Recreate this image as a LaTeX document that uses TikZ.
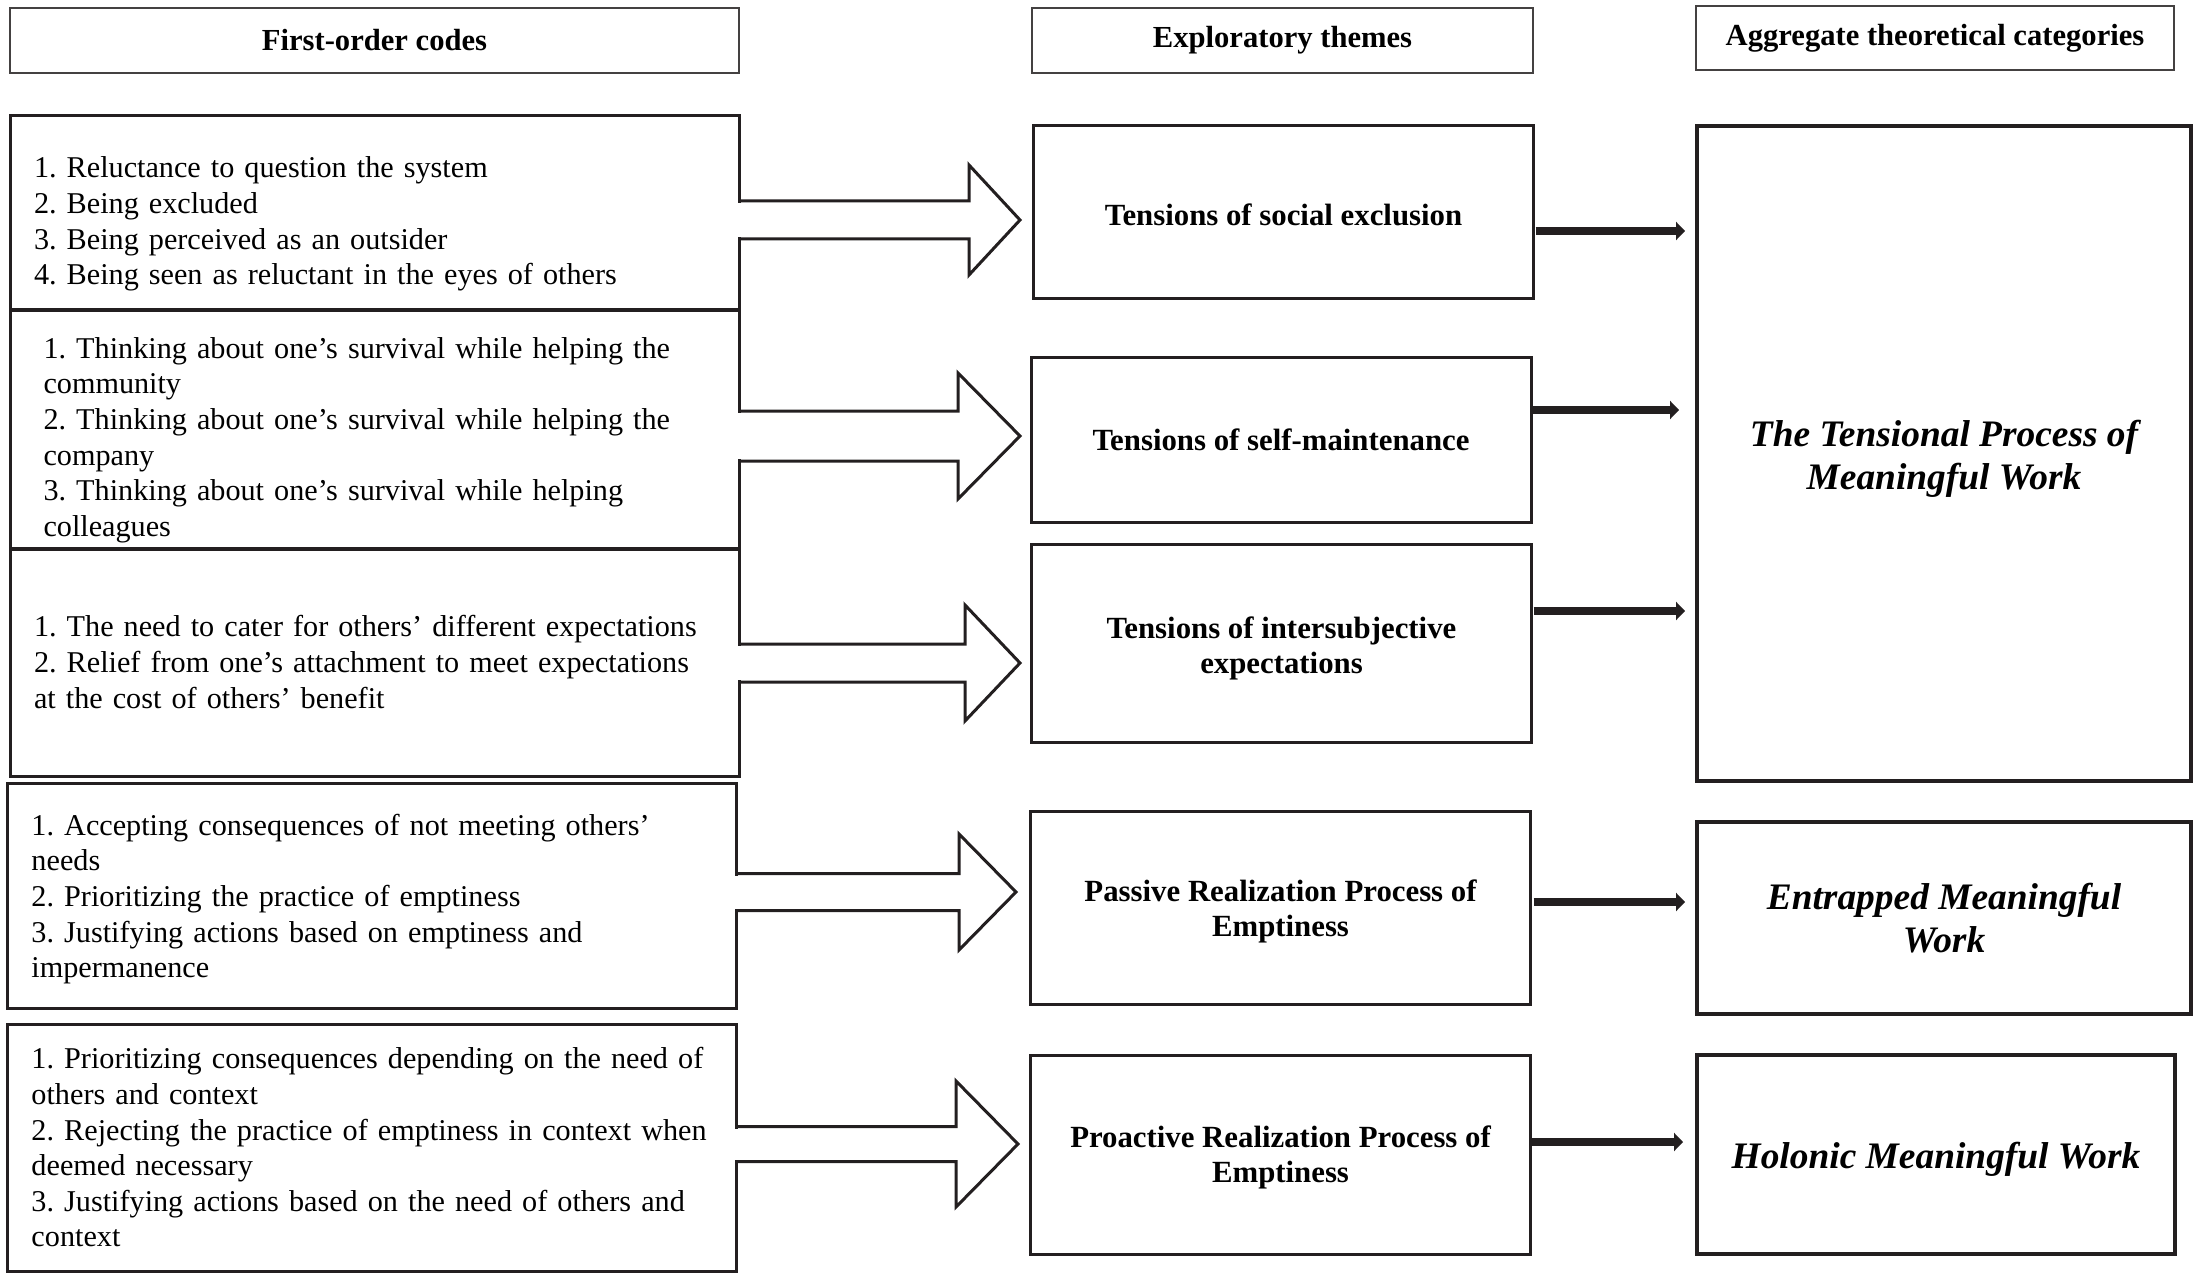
\documentclass[tikz,border=0pt]{standalone}
\usepackage{fontspec}
\setmainfont{Liberation Serif}
\usetikzlibrary{arrows.meta,calc}
\frenchspacing

\definecolor{ink}{HTML}{231F20}

% hollow block arrow: start, tip, half shaft, half head, head length
\newcommand{\hollowarrow}[5]{%
	\fill[white] ($(#1)+(-3,-#3+2)$) rectangle ($(#2)+(-#5,#3-2)$);
	\draw[ink, line width=1.5pt, line join=miter] ($(#1)+(0,-#3)$) -- ($(#2)+(-#5,-#3)$) -- ($(#2)+(-#5,-#4)$) -- (#2) -- ($(#2)+(-#5,#4)$) -- ($(#2)+(-#5,#3)$) -- ($(#1)+(0,#3)$);
}
% taller first line, pushes a text block down in its box
\newcommand{\topgap}[1]{\rule{0pt}{#1}}

\begin{document}
\begin{tikzpicture}[x=0.5pt,y=-0.5pt,
	head/.style={draw=ink!85, line width=0.85pt, outer sep=0pt, minimum width=364.5pt, minimum height=32.5pt, font=\fontsize{15.3}{17.8}\selectfont\bfseries},
	codes/.style={draw=ink, line width=1.5pt, outer sep=0pt, text width=340.5pt, inner xsep=12pt, align=left, font=\fontsize{15.1}{17.8}\selectfont},
	theme/.style={draw=ink, line width=1.5pt, outer sep=0pt, minimum width=250pt, align=center, font=\fontsize{15.4}{17.5}\selectfont\bfseries},
	category/.style={draw=ink, line width=1.6pt, outer sep=0pt, minimum width=247pt, align=center, font=\fontsize{18.7}{21.5}\selectfont\bfseries\itshape},
	heavy/.style={ink, line width=4.25pt, -{Triangle[length=4.5pt,width=9pt]}}]
	\useasboundingbox (0,0) rectangle (2199,1278);

	\node[head] (hcodes) at (374.5,40.5) {First-order codes};
	\node[head, minimum width=250.5pt] (hthemes) at (1282.5,40.5) {Exploratory themes};
	\node[head, minimum width=239pt, minimum height=32pt] (hcats) at (1935,38) {Aggregate theoretical categories};

	\node[codes, minimum height=97.5pt] (codes1) at (374.5,213.5) {\topgap{21pt}1. Reluctance to question the system\\2. Being excluded\\3. Being perceived as an outsider\\4. Being seen as reluctant in the eyes of others};
	\node[codes, minimum height=118.5pt, text width=331pt, inner xsep=16.75pt] (codes2) at (374.5,429.5) {\topgap{21pt}1. Thinking about one’s survival while helping the\\community\\2. Thinking about one’s survival while helping the\\company\\3. Thinking about one’s survival while helping\\colleagues};
	\node[codes, minimum height=114pt] (codes3) at (374.5,662) {1. The need to cater for others’ different expectations\\2. Relief from one’s attachment to meet expectations\\at the cost of others’ benefit};
	\node[codes, minimum height=112.5pt] (codes4) at (372,895.5) {\topgap{14.2pt}1. Accepting consequences of not meeting others’\\needs\\2. Prioritizing the practice of emptiness\\3. Justifying actions based on emptiness and\\impermanence};
	\node[codes, minimum height=123.5pt] (codes5) at (372,1147.5) {1. Prioritizing consequences depending on the need of\\others and context\\2. Rejecting the practice of emptiness in context when\\deemed necessary\\3. Justifying actions based on the need of others and\\context};

	\node[theme, minimum height=86.5pt] (social) at (1283.5,212.5) {\topgap{13.3pt}Tensions of social exclusion};
	\node[theme, minimum height=82pt] (selfmaint) at (1281,440) {Tensions of self-maintenance};
	\node[theme, minimum height=99pt] (intersubj) at (1281.5,643) {\topgap{16pt}Tensions of intersubjective\\expectations};
	\node[theme, minimum height=96.5pt] (passive) at (1280.5,907.5) {\topgap{14.7pt}Passive Realization Process of\\Emptiness};
	\node[theme, minimum height=99.5pt] (proactive) at (1280.5,1154.5) {\topgap{14pt}Proactive Realization Process of\\Emptiness};

	\node[category, minimum height=327.5pt] (tensional) at (1944,453.5) {\topgap{18pt}The Tensional Process of\\Meaningful Work};
	\node[category, minimum height=96pt] (entrapped) at (1944,918) {Entrapped Meaningful\\Work};
	\node[category, minimum width=239pt, minimum height=99.5pt] (holonic) at (1936,1154.5) {\topgap{18pt}Holonic Meaningful Work};

	\coordinate (tip1) at (1020,220);
	\coordinate (tip2) at (1020,436);
	\coordinate (tip3) at (1020,663);
	\coordinate (tip4) at (1016,892);
	\coordinate (tip5) at (1018,1144);
	\hollowarrow{codes1.east |- tip1}{tip1}{19}{55}{51}
	\hollowarrow{codes2.east |- tip2}{tip2}{25}{63}{62}
	\hollowarrow{codes3.east |- tip3}{tip3}{19}{58}{55}
	\hollowarrow{codes4.east |- tip4}{tip4}{18.5}{58}{57}
	\hollowarrow{codes5.east |- tip5}{tip5}{17.5}{63}{62}

	\coordinate (out1) at (0,231);
	\coordinate (out2) at (0,410);
	\coordinate (out3) at (0,611);
	\coordinate (out4) at (0,902);
	\coordinate (out5) at (0,1142);
	\draw[heavy] ($(social.east |- out1)+(2,0)$) -- ($(tensional.west |- out1)+(-12,0)$);
	\draw[heavy] ($(selfmaint.east |- out2)+(0,0)$) -- ($(tensional.west |- out2)+(-18,0)$);
	\draw[heavy] ($(intersubj.east |- out3)+(2,0)$) -- ($(tensional.west |- out3)+(-12,0)$);
	\draw[heavy] ($(passive.east |- out4)+(3,0)$) -- ($(entrapped.west |- out4)+(-12,0)$);
	\draw[heavy] ($(proactive.east |- out5)+(0,0)$) -- ($(holonic.west |- out5)+(-14,0)$);
\end{tikzpicture}
\end{document}
